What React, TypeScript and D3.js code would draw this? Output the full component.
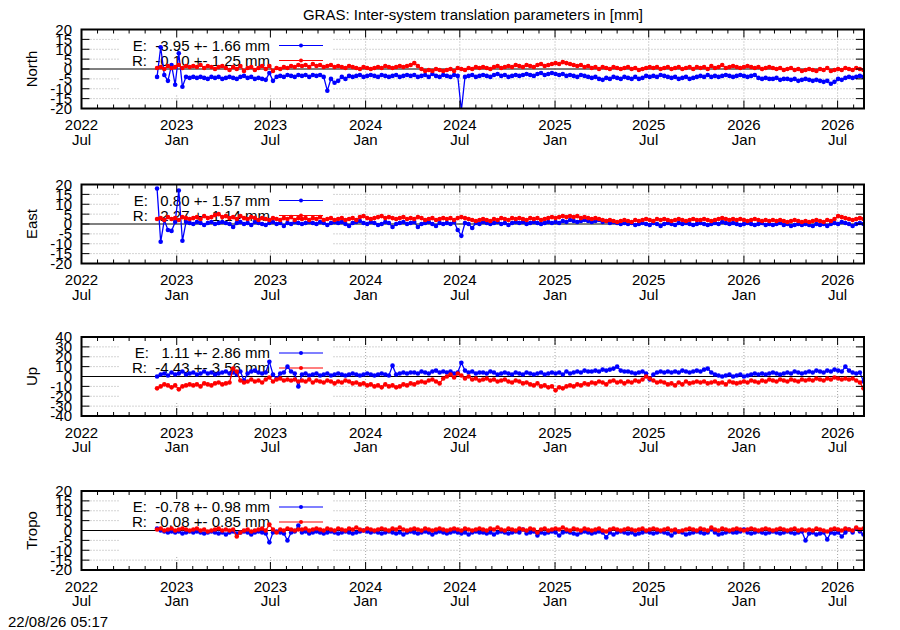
import React, { useEffect, useRef } from 'react';
import * as d3 from 'd3';

// weekly samples, first one on 2022-11-24
const firstDay = new Date(Date.UTC(2022, 10, 24));
const axisStart = new Date(Date.UTC(2022, 6, 1));
const axisEnd = new Date(Date.UTC(2026, 7, 21));

const titleText = 'GRAS: Inter-system translation parameters in [mm]';
const stampText = '22/08/26 05:17';

const panelNames = ['North', 'East', 'Up', 'Tropo'];
const panelLimits = [20, 20, 40, 20];
const panelSteps = [5, 5, 10, 5];
const legendE = ['E:  -3.95 +- 1.66 mm', 'E:   0.80 +- 1.57 mm', 'E:   1.11 +- 2.86 mm', 'E:  -0.78 +- 0.98 mm'];
const legendR = ['R:  -0.10 +- 1.25 mm', 'R:   2.27 +- 1.14 mm', 'R:  -4.43 +- 3.56 mm', 'R:  -0.08 +- 0.85 mm'];

const northE = [
  -4, 11, -3, -6, 2, -8, 8, -9, -4, -4.5,
  -4, -4.5, -4, -4.5, -5, -4, -4.5, -4, -5, -4.5,
  -4, -4.5, -5, -4, -3.5, -4.5, -4, -5, -4.5, -5,
  -5.5, -2, -6, -4, -3.5, -4, -3, -3.5, -4, -3,
  -3.5, -3, -4, -3, -3.5, -3, -4, -11, -5, -7,
  -6, -4, -5, -3.5, -4, -3.5, -3, -4, -3.5, -3,
  -3.5, -4, -3, -3.5, -4, -3.5, -3, -4, -3.5, -3,
  -3.5, -3, -4, -3.5, -3, -4, -2.5, -3.5, -4, -3,
  -3.5, -4, -3, -3.5, -21, -4, -3.5, -3, -4, -3.5,
  -3, -3.5, -4, -3, -2.5, -3.5, -3, -4, -3.5, -3,
  -3.5, -3, -2.5, -3, -3.5, -2.5, -2, -3, -2.5, -2,
  -2.5, -3, -2.5, -3.5, -3, -3.5, -4, -3, -3.5, -4,
  -4.5, -4, -5, -5.5, -4.5, -5, -4, -4.5, -5, -4,
  -4.5, -5, -4, -5, -4.5, -3.5, -4, -3.5, -4, -3,
  -3.5, -4, -4.5, -4, -5, -4.5, -4, -5, -4.5, -4,
  -3.5, -4, -3, -4, -3.5, -4, -3.5, -3, -3.5, -4,
  -3.5, -3, -3.5, -4, -3.5, -3, -4.5, -5, -4.5, -5,
  -5, -4.5, -5.5, -5, -5, -5.5, -5, -6, -5.5, -5,
  -5.5, -6, -5.5, -6, -6.5, -6, -7.5, -6.5, -5, -5.5,
  -4.5, -4, -4.5, -4, -3.5, -4,
];

const northR = [
  0.5, 1, 0, 1.5, 0.5, 1, 2, 0.5, 1.5, 1,
  1.5, 1, 2, 0.5, 1.5, 1, 0, 1, 1.5, 0.5,
  -0.5, 1, 0, 1.5, -1, 0.5, 1, -0.5, 0.5, 1.5,
  0, 1.5, -1, 0.5, 0, 1, 0.5, 1.5, 1, 2,
  1.5, 2, 1, 2.5, 1.5, 2, 1, 1.5, 2, 1,
  1.5, 1, 0.5, 1.5, 1, 0.5, 0, 1, 0.5, 0,
  0.5, 1, 0.5, 1.5, 1, 0.5, 1, 1.5, 1, 1.5,
  2, 3, 1.5, 0, -1, -0.5, -1, 0, -0.5, -1,
  -0.5, 0, -1, 0.5, 0, -0.5, 0.5, 0, 1, 0.5,
  1, 0.5, 0, 1, 1.5, 0.5, 1, 1.5, 1, 2,
  1.5, 1, 2, 1.5, 1, 2, 2.5, 1.5, 2, 2.5,
  3, 2.5, 3.5, 3, 2.5, 2, 1.5, 2, 1, 1.5,
  0.5, 1, 0, 1, 0.5, 0, 1, 0.5, 0, 0.5,
  1, 0, 0.5, -0.5, 0, 0.5, 1, 0.5, 1, 0,
  0.5, 1, 0, 0.5, 1, 0, 0.5, 1, 0, 1,
  0.5, 1, 0, 1.5, 0.5, 1, 2, 0.5, 1, 1.5,
  1, 0.5, 1, 1.5, 1, 0.5, 1, 0, 0.5, 1,
  0.5, 0, 0.5, -0.5, 0, 0.5, -0.5, 0, -1, -0.5,
  0, -0.5, -1, 0, -0.5, 0.5, -1, -0.5, 0, -0.5,
  0.5, 0, -0.5, 0.5, 0, -0.5,
];

const eastE = [
  18, -9, 2, -3, -3.5, 1, 17, -8.5, 1, 0.5,
  0, 1, 0.5, -0.5, 0.5, 1, 0, 0.5, 1, 0.5,
  0, -1.5, 0.5, 1, 0, 0.5, -0.5, 1, 0.5, 0,
  -0.5, 0.5, 1, 0, 0.5, -1, 0.5, 0, 1, 0.5,
  0, 0.5, 1, 0.5, 0, 1, 0.5, -0.5, 0.5, 1,
  0.5, 1, 0, -1, 0.5, 1, 1.5, 0.5, 0, 1,
  0.5, -0.5, 0, 1, 0.5, -1.5, 0, 0.5, 1, 0,
  0.5, 1, -1.5, 0, 0.5, 1, 0, -1, 0.5, 0,
  0.5, 0, 1, -3, -6, 0.5, 0, -2, 0.5, 0,
  1, 0.5, 0, 0.5, 1, 0, 0.5, -0.5, 0.5, 1,
  0.5, 1, 0, 0.5, 1, 0.5, 0, 0.5, 1, 0.5,
  1, 0.5, 1.5, 1, 2, 1.5, 1, 1.5, 2, 1.5,
  1, 1.5, 2, 1, 1.5, 0.5, 1, 0.5, 0, 0.5,
  0, 0.5, -0.5, 0, 0.5, 0, -0.5, 0.5, 0, -1,
  0, 0.5, 0, -0.5, 0.5, 0, 0.5, 0, -0.5, 0,
  0.5, 0, -0.5, 0, 0.5, 0, 1, 0.5, 0, 0.5,
  0, -0.5, 0, 0.5, 0, -0.5, 0, 0.5, -0.5, 0,
  -0.5, 0, 0.5, -0.5, 0, -1, -0.5, 0, -0.5, 0,
  -0.5, -1, 0, -0.5, 0, -1, 0, 0.5, 0, 1,
  0.5, 0, -1, 0, 0.5, 0,
];

const eastR = [
  2.5, 3, 2, 3.5, 2.5, 3, 2, 3.5, 3, 2.5,
  3, 3.5, 2.5, 4, 3, 3.5, 4.5, 5, 3.5, 4,
  3, 3.5, 2.5, 4, 3, 2.5, 3.5, 3, 2, 3,
  2.5, 2, 3, 2.5, 2, 3, 2.5, 3.5, 2, 3,
  2.5, 3, 2, 3, 2.5, 3.5, 2, 2.5, 3, 2,
  2.5, 3, 2, 2.5, 3, 2, 3.5, 4, 3, 2.5,
  3, 3.5, 4, 3, 3.5, 3, 2.5, 3, 3.5, 2.5,
  3, 2.5, 3.5, 3, 2, 2.5, 3, 2, 2.5, 3,
  2.5, 3, 2, 3, 3.5, 3, 2.5, 2, 1.5, 2,
  2.5, 2, 1.5, 2.5, 2, 3, 2.5, 2, 3, 2.5,
  3, 2.5, 2, 3, 2.5, 3, 2, 2.5, 3, 3.5,
  3, 3.5, 4, 3.5, 4, 3.5, 4, 3, 3.5, 3,
  2.5, 3, 2.5, 2, 1.5, 2, 1.5, 1, 1.5, 2,
  1.5, 1, 2, 1.5, 2, 2.5, 2, 1.5, 2.5, 2,
  2.5, 2, 1.5, 2, 2.5, 2, 1.5, 2, 2.5, 2,
  2, 2.5, 2, 1.5, 2, 2.5, 3, 2.5, 2, 2.5,
  2, 2.5, 2, 1.5, 2, 2.5, 2, 1.5, 2, 1.5,
  2, 1.5, 2, 1.5, 1, 1.5, 2, 1.5, 1, 1.5,
  1, 1.5, 2, 1.5, 1, 2, 1.5, 2.5, 4, 3.5,
  3, 2.5, 2, 2.5, 3, 2.5,
];

const upE = [
  0, 2, 3, 1, 4, 2, 3, 5, 2, 3,
  4, 2, 3, 5, 3, 4, 2, 3, 4, 5,
  3, 4, 2, 5, -4, 3, 5, 6, 4, 3,
  4, 15, 2, -2, 3, 4, 10, 5, 3, -10,
  2, 3, 1, 2, 3, 1, 2, 3, 1, 2,
  3, 2, 1, 2, 3, 2, 1, 2, 3, 2,
  1, 2, 3, 2, 1, 11, 2, 3, 4, 3,
  4, 4, 3, 5, 4, 3, 5, 6, 4, 5,
  4, 5, 3, 4, 14, 6, 4, 5, 3, 4,
  4, 3, 5, 4, 2, 3, 4, 3, 2, 4,
  3, 2, 4, 3, 2, 3, 4, 2, 3, 4,
  3, 4, 2, 5, 3, 4, 5, 4, 6, 5,
  5, 6, 5, 7, 6, 7, 8, 10, 6, 5,
  5, 4, 3, 4, 5, 3, -3, 2, 4, 5,
  4, 5, 4, 5, 4, 6, 5, 4, 5, 6,
  5, 7, 8, 4, 2, 1, 0, 1, 2, 0,
  1, 2, 0, 1, 2, 3, 2, 3, 2, 3,
  4, 3, 2, 3, 4, 3, 5, 4, 3, 4,
  5, 4, 6, 5, 4, 6, 5, 7, 6, 5,
  10, 6, 4, 3, 4, -5,
];

const upR = [
  -12, -10, -8, -9, -11, -9, -13, -10, -9, -8,
  -9, -8, -10, -7, -8, -9, -7, -6, -8, -7,
  -6, 8, 5, -4, -6, -5, -3, -5, -4, -6,
  -3, -1, -5, -3, -2, -4, -3, -4, -3, -5,
  -4, -5, -3, -6, -4, -5, -6, -4, -5, -7,
  -5, -6, -4, -5, -7, -6, -8, -7, -9, -8,
  -10, -9, -11, -8, -10, -9, -11, -10, -8, -9,
  -7, -8, -6, -5, -6, -4, -3, -5, -7, -2,
  0, 2, -1, 3, 1, -2, 0, -3, -2, -4,
  -3, -2, -4, -3, -5, -4, -3, -5, -6, -4,
  -5, -7, -6, -8, -9, -7, -10, -9, -11, -10,
  -14, -11, -12, -10, -9, -10, -8, -9, -7, -8,
  -6, -7, -5, -6, -8, -5, -4, -6, -5, -7,
  -5, -6, -4, -5, -3, 0, -2, -4, -6, -5,
  -6, -8, -7, -9, -6, -8, -5, -7, -6, -5,
  -6, -5, -7, -6, -5, -7, -6, -8, -5, -6,
  -7, -6, -5, -6, -4, -5, -6, -4, -5, -3,
  -4, -5, -3, -4, -5, -3, -4, -5, -3, -4,
  -3, -4, -2, -3, -4, -2, -3, -1, -2, -3,
  -2, -3, -2, -4, -6, -12,
];

const tropoE = [
  1, 0, -0.5, -1, -0.5, -1, -0.5, -1.5, -1, -0.5,
  -1, -0.5, -1, -1.5, -1, -0.5, -1, -1.5, -1, -2,
  -1, -0.5, -1.5, -1, -0.5, -1, -2, -1, -0.5, -1,
  -1.5, -6, -1, -0.5, -1, -1.5, -5, -1, -0.5, 2.5,
  -1, -0.5, -1.5, -1, -0.5, -1, -1.5, -1, -0.5, -1,
  -1.5, -1, -0.5, -1, -1.5, -1, -0.5, 0, -0.5, -1,
  -0.5, -1, -1.5, -1, -0.5, -1, -1.5, -1, -2, -1,
  -0.5, -1, -1.5, -1, -0.5, -1, -2, -1, -0.5, -1,
  -1.5, -1, -0.5, -1, -1.5, -1, -2, -1, -0.5, -1,
  -1, -1.5, -1, -2, -1, -0.5, -1, -1.5, -1, -0.5,
  -1, 0.5, -1.5, -1, -0.5, -2.5, -1, -1.5, -1, -0.5,
  -1, -2.5, -1, -0.5, -1, -1.5, -2, -1, -0.5, -1,
  -1.5, -1, -0.5, -1, -3.5, -1, -2, -1, -0.5, -1,
  -1.5, -1, -2, -1.5, -1, -0.5, -1, -1.5, -1, -0.5,
  -1, -1.5, -2.5, -1, -0.5, -1, -2, -1.5, -1, -0.5,
  -1, -1.5, -1, 0.5, -1, -2, -1.5, -1, -0.5, -1,
  -1, -0.5, 0.5, -1, -1.5, -1, -0.5, -1, -1.5, -1,
  -0.5, -1, -1.5, -1, -0.5, -1, -1.5, -1, -0.5, -5,
  -1.5, -1, -2, -1.5, -1, -4.5, -1, -1.5, -1, -3,
  -1, 0.5, -1, 1, -0.5, -2,
];

const tropoR = [
  0.5, 1, 0, 0.5, 1, 0, 0.5, 1, 0.5, 0,
  0.5, 1, 0, 0.5, -0.5, 0, 0.5, 1, 0, 0.5,
  0, 0.5, -3, -1, 0, 0.5, -0.5, 0, 0.5, 1,
  0, 3, 0.5, -1, 0.5, 0, 1, 0.5, 0, 0.5,
  0.5, 1, 0, 0.5, 1, 0.5, 0, 1, 0.5, 0,
  1, 0.5, 0, 1, 0.5, 1.5, 0.5, 0, 1, 0.5,
  0, 0.5, 1, 0.5, 0, 1, 0.5, 1.5, 0.5, 0,
  0.5, 1, 0.5, 0, 1, 0.5, 0, 0.5, 1, 0.5,
  0, 0.5, 1, 0.5, 0, 1, 0.5, 0, 0.5, 1,
  0.5, 0, 1, 0.5, 1.5, 0.5, 0, 1, 0.5, 0,
  1, 0.5, 0, 1, 0.5, -1, 0.5, 1, 0, 0.5,
  1, 0.5, 1.5, 0.5, 0, 1, 0.5, 0, 1, 0.5,
  0, 0.5, 1, 0, -0.5, 0.5, 1, 0.5, 0, 0.5,
  1, 0.5, 0, 0.5, 1, 0, 0.5, 1, 0.5, 0,
  0.5, 1, 0, 0.5, -0.5, 0, 0.5, 1, 0.5, 0,
  1, 0.5, 0, 1.5, 0.5, 0, 1, 0.5, 0, 0.5,
  1, 0.5, 0, 0.5, 1, 0.5, 0, 0.5, 1, 0.5,
  0, 0.5, 1, 0.5, 0, 0.5, 1, 0, 0.5, 0,
  0.5, 0, 1, 0.5, 0, -0.5, 0.5, 1, 0.5, 0,
  1, 0.5, 0, 1.5, 0.5, 1,
];

const seriesE = [northE, eastE, upE, tropoE];
const seriesR = [northR, eastR, upR, tropoR];

const W = 900;
const H = 630;
const plotLeft = 81.5;
const plotRight = 864;
const panelTops = [29.5, 184.5, 337, 491];
const panelH = 79;
const font = 'Liberation Sans, Arial, Helvetica, sans-serif';

const App: React.FC = () => {
  const svgRef = useRef<SVGSVGElement>(null);

  useEffect(() => {
    if (!svgRef.current) return;
    const svg = d3.select(svgRef.current);
    svg.selectAll('*').remove();

    const x = d3.scaleUtc().domain([axisStart, axisEnd]).range([plotLeft, plotRight]);
    const months = d3.utcMonth.range(axisStart, axisEnd);
    const majors = months.filter(d => d.getUTCMonth() % 6 === 0);
    const dayOf = (i: number) => d3.utcDay.offset(firstDay, i * 7);

    svg.append('rect').attr('width', W).attr('height', H).attr('fill', '#fff');

    svg.append('text')
      .attr('x', 473).attr('y', 20)
      .attr('text-anchor', 'middle')
      .attr('font-family', font).attr('font-size', 15)
      .text(titleText);

    panelNames.forEach((name, k) => {
      const top = panelTops[k];
      const bottom = top + panelH;
      const lim = panelLimits[k];
      const y = d3.scaleLinear().domain([-lim, lim]).range([bottom, top]);
      const yTicks = d3.range(-lim, lim + 0.001, panelSteps[k]);
      const g = svg.append('g');

      // dotted grid
      majors.forEach(d => {
        g.append('line')
          .attr('x1', x(d)).attr('x2', x(d))
          .attr('y1', top).attr('y2', bottom)
          .attr('stroke', '#a8a8a8').attr('stroke-dasharray', '1,2');
      });
      yTicks.filter(v => v !== 0 && Math.abs(v) !== lim).forEach(v => {
        g.append('line')
          .attr('x1', plotLeft).attr('x2', plotRight)
          .attr('y1', y(v)).attr('y2', y(v))
          .attr('stroke', '#a8a8a8').attr('stroke-dasharray', '1,2');
      });

      // opaque key box
      g.append('rect')
        .attr('x', 120).attr('y', top + 1)
        .attr('width', 332 - 120).attr('height', 64)
        .attr('fill', '#fff');

      g.append('line')
        .attr('x1', plotLeft).attr('x2', plotRight)
        .attr('y1', y(0)).attr('y2', y(0))
        .attr('stroke', '#000').attr('stroke-width', 1.2);

      // key entries
      const keyRows = [
        { label: legendE[k], color: '#0000ff' },
        { label: legendR[k], color: '#ff0000' },
      ];
      keyRows.forEach((row, j) => {
        const base = top + 21.2 + j * 15;
        const mid = top + 16 + j * 15;
        g.append('text')
          .attr('x', 270).attr('y', base)
          .attr('text-anchor', 'end')
          .attr('font-family', font).attr('font-size', 15)
          .style('white-space', 'pre')
          .text(row.label);
        g.append('line')
          .attr('x1', 279).attr('x2', 323)
          .attr('y1', mid).attr('y2', mid)
          .attr('stroke', row.color).attr('stroke-width', 1.2);
        g.append('circle')
          .attr('cx', 301).attr('cy', mid).attr('r', 2)
          .attr('fill', row.color);
      });

      // data
      const clipId = `clip-${k}`;
      svg.append('clipPath').attr('id', clipId)
        .append('rect')
        .attr('x', plotLeft).attr('y', top)
        .attr('width', plotRight - plotLeft).attr('height', panelH);
      const dg = g.append('g').attr('clip-path', `url(#${clipId})`);

      const line = d3.line<number>()
        .x((d, i) => x(dayOf(i)))
        .y(d => y(d));

      [{ vals: seriesE[k], color: '#0000ff' }, { vals: seriesR[k], color: '#ff0000' }].forEach(s => {
        dg.append('path')
          .datum(s.vals)
          .attr('fill', 'none')
          .attr('stroke', s.color)
          .attr('stroke-width', 1.3)
          .attr('d', line);
        dg.selectAll(null)
          .data(s.vals)
          .enter()
          .append('circle')
          .attr('cx', (d, i) => x(dayOf(i)))
          .attr('cy', d => y(d))
          .attr('r', 2.3)
          .attr('fill', s.color);
      });

      // ticks
      months.forEach(d => {
        const len = d.getUTCMonth() % 6 === 0 ? 8 : 4;
        g.append('line')
          .attr('x1', x(d)).attr('x2', x(d))
          .attr('y1', bottom).attr('y2', bottom - len)
          .attr('stroke', '#000');
        g.append('line')
          .attr('x1', x(d)).attr('x2', x(d))
          .attr('y1', top).attr('y2', top + len)
          .attr('stroke', '#000');
      });
      yTicks.forEach(v => {
        g.append('line')
          .attr('x1', plotLeft).attr('x2', plotLeft + 8)
          .attr('y1', y(v)).attr('y2', y(v))
          .attr('stroke', '#000');
        g.append('line')
          .attr('x1', plotRight).attr('x2', plotRight - 8)
          .attr('y1', y(v)).attr('y2', y(v))
          .attr('stroke', '#000');
        g.append('text')
          .attr('x', 72).attr('y', y(v))
          .attr('dy', '0.36em')
          .attr('text-anchor', 'end')
          .attr('font-family', font).attr('font-size', 15)
          .text(String(v));
      });

      g.append('rect')
        .attr('x', plotLeft).attr('y', top)
        .attr('width', plotRight - plotLeft).attr('height', panelH)
        .attr('fill', 'none').attr('stroke', '#000').attr('stroke-width', 2);

      majors.forEach(d => {
        g.append('text')
          .attr('x', x(d)).attr('y', bottom + 21.5)
          .attr('text-anchor', 'middle')
          .attr('font-family', font).attr('font-size', 15)
          .text(d3.utcFormat('%Y')(d));
        g.append('text')
          .attr('x', x(d)).attr('y', bottom + 36)
          .attr('text-anchor', 'middle')
          .attr('font-family', font).attr('font-size', 15)
          .text(d3.utcFormat('%b')(d));
      });

      g.append('text')
        .attr('transform', `translate(37,${(top + bottom) / 2}) rotate(-90)`)
        .attr('text-anchor', 'middle')
        .attr('font-family', font).attr('font-size', 15)
        .text(name);
    });

    svg.append('text')
      .attr('x', 8).attr('y', 627)
      .attr('font-family', font).attr('font-size', 15)
      .text(stampText);
  }, []);

  return (
    <div style={{ position: 'absolute', left: 0, top: 0 }}>
      <svg ref={svgRef} width={W} height={H} style={{ display: 'block' }} />
    </div>
  );
};

export default App;
